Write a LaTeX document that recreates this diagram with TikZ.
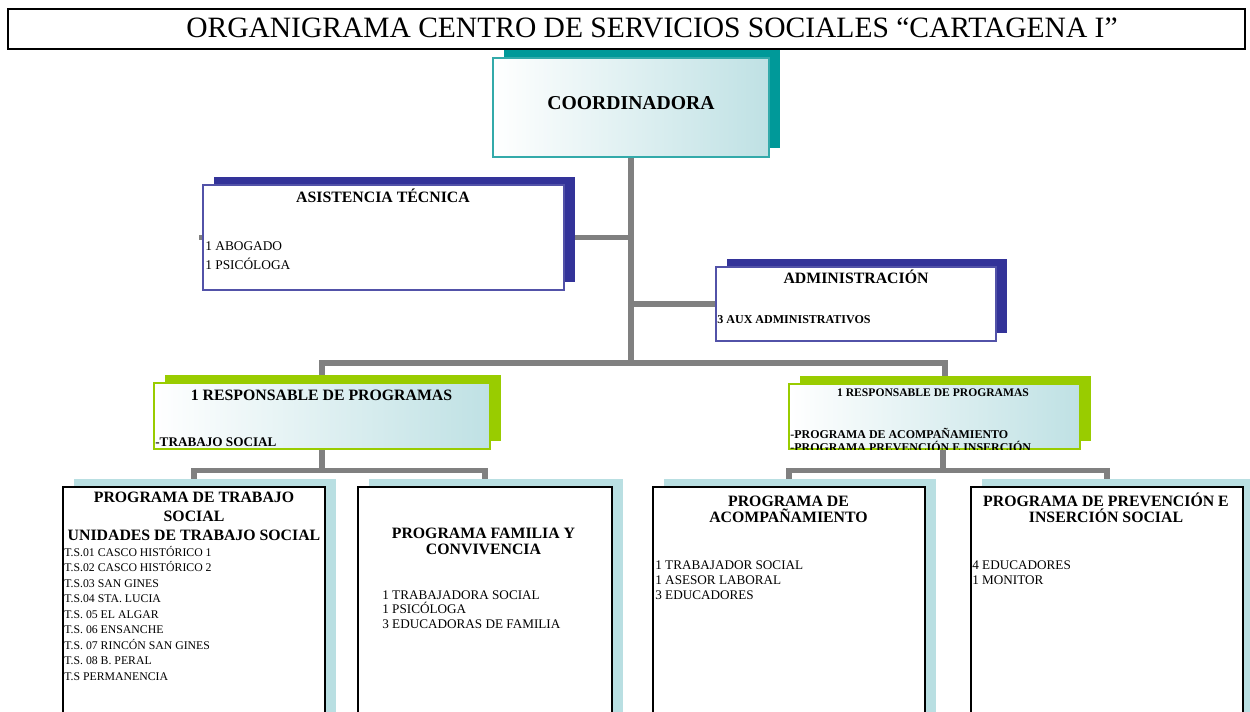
\documentclass[tikz,border=0pt]{standalone}
\usepackage{fontspec}
\setmainfont{Liberation Serif}
\usepackage{xcolor}
\usepackage{tikz}
\usetikzlibrary{positioning,shadows,calc,backgrounds}

\definecolor{coordteal}{HTML}{009999}
\definecolor{coordline}{HTML}{33AAAA}
\definecolor{admnavy}{HTML}{333399}
\definecolor{respgreen}{HTML}{99CC00}
\definecolor{progshadow}{HTML}{B9DFE2}
\definecolor{shadeblue}{HTML}{BFE1E4}
\definecolor{linkgray}{HTML}{808080}

\begin{document}
\begin{tikzpicture}[x=0.02cm, y=-0.02cm,
    shadowed/.style={drop shadow={shadow xshift=0.22cm, shadow yshift=0.17cm, fill=#1, opacity=1}},
    headbox/.style={rectangle, draw=black, line width=1.2pt, fill=white, minimum width=24.74cm, minimum height=0.8cm, inner sep=0pt},
    coordbox/.style={rectangle, draw=coordline, line width=0.8pt, left color=white, right color=shadeblue, shadowed=coordteal, inner sep=0pt},
    navybox/.style={rectangle, draw=admnavy!85, line width=0.8pt, fill=white, shadowed=admnavy, inner sep=0pt},
    greenbox/.style={rectangle, draw=respgreen, line width=0.8pt, left color=white, right color=shadeblue, shadowed=respgreen, inner sep=0pt},
    progbox/.style={rectangle, draw=black, line width=1.1pt, fill=white, shadowed=progshadow, minimum height=5.46cm, inner sep=0pt},
    link/.style={draw=linkgray, line width=2.9pt},
    lbl/.style={anchor=base, inner sep=0pt, align=center},
    lblw/.style={anchor=base west, inner sep=0pt, align=left}
  ]
    \clip (0,0) rectangle (1250,711);

    % --- HEADER ---
    \node[headbox] (head) at (626.5,29) {};
    \node[lbl, font=\fontsize{16.8}{19}\selectfont] (headtxt) at (652,37) {ORGANIGRAMA CENTRO DE SERVICIOS SOCIALES “CARTAGENA I”};

    % --- COORDINADORA ---
    \node[coordbox, minimum width=5.52cm, minimum height=1.98cm] (coord) at (631,107.5) {};
    \node[lbl, font=\fontsize{11.2}{13}\selectfont\bfseries] (coordtxt) at (631,109) {COORDINADORA};

    % --- ASISTENCIA TECNICA ---
    \node[navybox, minimum width=7.22cm, minimum height=2.1cm] (asis) at (383.5,237.5) {};
    \node[lbl, font=\fontsize{9}{11}\selectfont\bfseries] (asistit) at (383,202) {ASISTENCIA TÉCNICA};
    \node[lblw, font=\fontsize{7.6}{10.8}\selectfont] (asisstaff) at (205,269) {1 ABOGADO\\1 PSICÓLOGA};

    % --- ADMINISTRACION ---
    \node[navybox, minimum width=5.6cm, minimum height=1.48cm] (admin) at (856,304) {};
    \node[lbl, font=\fontsize{9}{11}\selectfont\bfseries] (admintit) at (856,283) {ADMINISTRACIÓN};
    \node[lblw, font=\fontsize{6.85}{8}\selectfont\bfseries] (adminstaff) at (717,323) {3 AUX ADMINISTRATIVOS};

    % --- RESPONSABLES DE PROGRAMAS ---
    \node[greenbox, minimum width=6.72cm, minimum height=1.32cm] (resp1) at (322,416) {};
    \node[lbl, font=\fontsize{9}{11}\selectfont\bfseries] (resp1tit) at (321.5,400) {1 RESPONSABLE DE PROGRAMAS};
    \node[lblw, font=\fontsize{7.5}{9}\selectfont\bfseries] (resp1area) at (155,446) {-TRABAJO SOCIAL};

    \node[greenbox, minimum width=5.82cm, minimum height=1.3cm] (resp2) at (934.5,416.5) {};
    \node[lbl, font=\fontsize{6.6}{8}\selectfont\bfseries] (resp2tit) at (933,396) {1 RESPONSABLE DE PROGRAMAS};
    \begin{scope}
      \clip (resp2.south west) rectangle (resp2.north east);
      \node[lblw, font=\fontsize{6.8}{7.5}\selectfont\bfseries] (resp2area) at (790,451.5) {-PROGRAMA DE ACOMPAÑAMIENTO\\-PROGRAMA PREVENCIÓN E INSERCIÓN};
    \end{scope}

    % --- PROGRAMAS ---
    \node[progbox, minimum width=5.24cm] (b1) at (194,623.5) {};
    \node[lbl, font=\fontsize{9}{10.6}\selectfont\bfseries] (b1tit) at (194,540) {PROGRAMA DE TRABAJO\\SOCIAL\\UNIDADES DE TRABAJO SOCIAL};
    \node[lblw, font=\fontsize{6.7}{8.8}\selectfont] (b1staff) at (64,680) {T.S.01 CASCO HISTÓRICO 1\\T.S.02 CASCO HISTÓRICO 2\\T.S.03 SAN GINES\\T.S.04 STA. LUCIA\\T.S. 05 EL ALGAR\\T.S. 06 ENSANCHE\\T.S. 07 RINCÓN SAN GINES\\T.S. 08 B. PERAL\\T.S PERMANENCIA};

    \node[progbox, minimum width=5.08cm] (b2) at (485,623.5) {};
    \node[lbl, font=\fontsize{9}{9.1}\selectfont\bfseries] (b2tit) at (483.5,554) {PROGRAMA FAMILIA Y\\CONVIVENCIA};
    \node[lblw, font=\fontsize{7.5}{8.4}\selectfont] (b2staff) at (382,628.6) {1 TRABAJADORA SOCIAL\\1 PSICÓLOGA\\3 EDUCADORAS DE FAMILIA};

    \node[progbox, minimum width=5.44cm] (b3) at (789,623.5) {};
    \node[lbl, font=\fontsize{9}{9.1}\selectfont\bfseries] (b3tit) at (788.5,522.7) {PROGRAMA DE\\ACOMPAÑAMIENTO};
    \node[lblw, font=\fontsize{7.5}{8.5}\selectfont] (b3staff) at (655,599) {1 TRABAJADOR SOCIAL\\1 ASESOR LABORAL\\3 EDUCADORES};

    \node[progbox, minimum width=5.44cm] (b4) at (1107,623.5) {};
    \node[lbl, font=\fontsize{9}{9.1}\selectfont\bfseries] (b4tit) at (1106,522) {PROGRAMA DE PREVENCIÓN E\\INSERCIÓN SOCIAL};
    \node[lblw, font=\fontsize{7.5}{8.5}\selectfont] (b4staff) at (972,584) {4 EDUCADORES\\1 MONITOR};

    % --- CONNECTORS (behind the boxes) ---
    \begin{scope}[on background layer]
      \fill[white] (0,0) rectangle (1250,711);
      \coordinate (hub) at (631,363);
      \coordinate (split1) at ($(resp1.south)+(0,21)$);
      \coordinate (split2) at ($(resp2.south)+(8.5,21)$);
      \draw[link] (coord.south) -- (hub);
      \draw[link] ($(asis.west)+(-3,0)$) -- (asis.west -| coord.south);
      \draw[link] (admin.west) -- (admin.west -| coord.south);
      \draw[link] (resp1.north) |- (hub) -| ($(resp2.north)+(10.5,0)$);
      \draw[link] (resp1.south) -- (split1);
      \draw[link] (b1.north) |- (split1) -| (b2.north);
      \draw[link] (split2 |- resp2.south) -- (split2);
      \draw[link] (b3.north) |- (split2) -| (b4.north);
    \end{scope}
  \end{tikzpicture}
\end{document}
